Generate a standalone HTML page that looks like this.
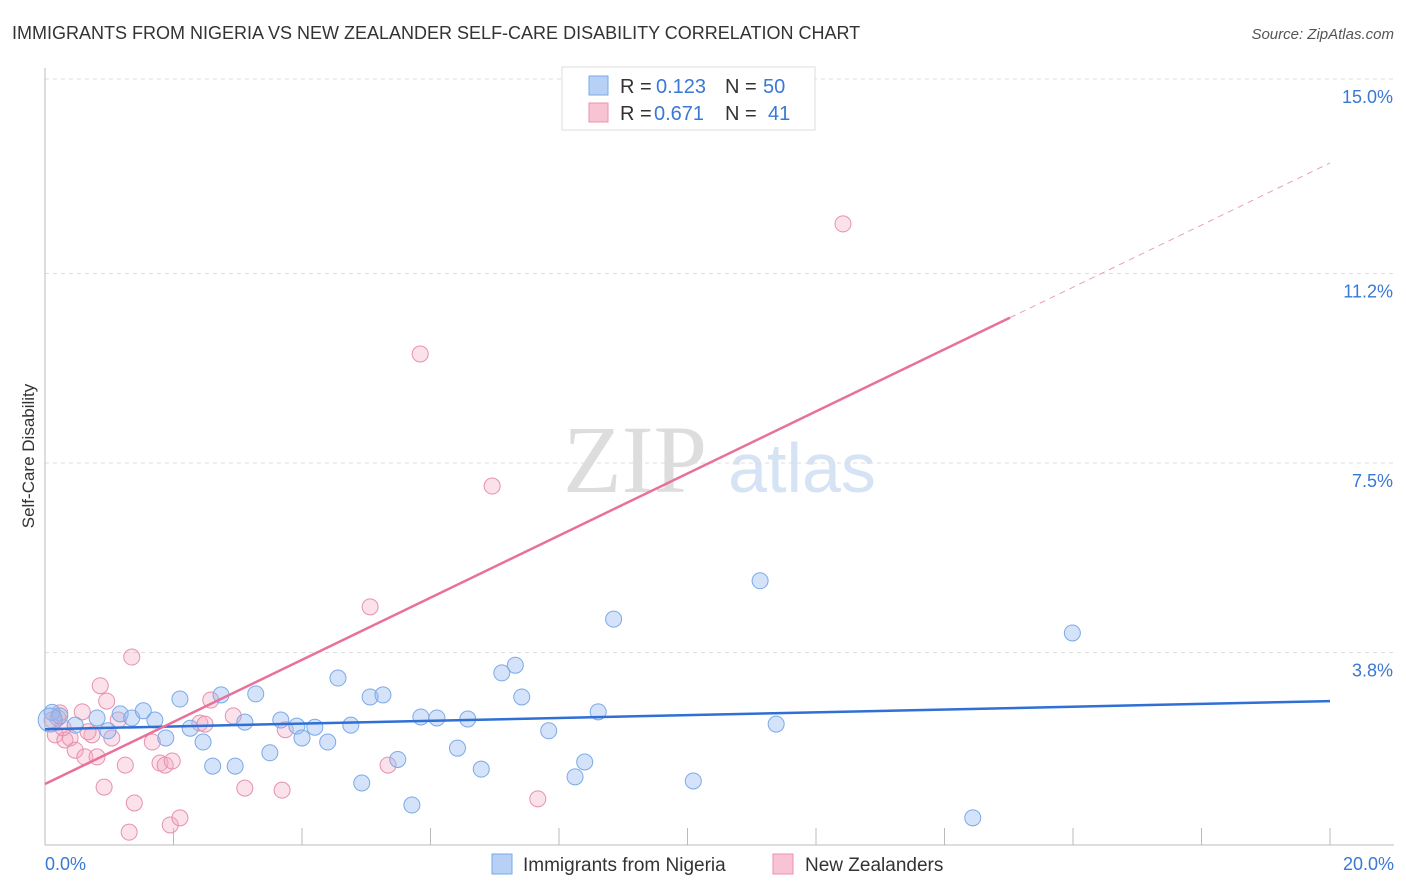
<!DOCTYPE html>
<html><head><meta charset="utf-8"><style>
body{margin:0;background:#fff;font-family:"Liberation Sans",sans-serif;}
svg{display:block}
</style></head><body>
<svg width="1406" height="892" viewBox="0 0 1406 892" id="chart">
<text x="12" y="39" font-size="18" fill="#333">IMMIGRANTS FROM NIGERIA VS NEW ZEALANDER SELF-CARE DISABILITY CORRELATION CHART</text>
<text x="1394" y="39" font-size="15" fill="#555" font-style="italic" text-anchor="end">Source: ZipAtlas.com</text>
<g>
<text x="635" y="492" font-size="96" fill="#ddd" text-anchor="middle" font-family="Liberation Serif,serif">ZIP</text>
<text x="802" y="492" font-size="70" fill="#d5e3f5" text-anchor="middle">atlas</text>
</g>
<g id="grid"></g>
<g id="axes"></g>
<g id="marks"></g>
<text x="34" y="456" font-size="17" fill="#333" text-anchor="middle" transform="rotate(-90 34 456)">Self-Care Disability</text>
<g>
<rect x="562" y="67" width="253" height="63" fill="#fff" stroke="#ddd"/>
<rect x="589" y="76" width="19" height="19" fill="#b7d0f5" stroke="#7aaae8"/>
<rect x="589" y="103" width="19" height="19" fill="#f8c4d4" stroke="#e890ae"/>
<text x="620" y="93" font-size="20" fill="#333">R =</text>
<text x="656" y="93" font-size="20" fill="#3a78d4">0.123</text>
<text x="725" y="93" font-size="20" fill="#333">N =</text>
<text x="763" y="93" font-size="20" fill="#3a78d4">50</text>
<text x="620" y="120" font-size="20" fill="#333">R =</text>
<text x="654" y="120" font-size="20" fill="#3a78d4">0.671</text>
<text x="725" y="120" font-size="20" fill="#333">N =</text>
<text x="768" y="120" font-size="20" fill="#3a78d4">41</text>
</g>
<g>
<rect x="492" y="854" width="20" height="20" fill="#b7d0f5" stroke="#7aaae8"/>
<text x="523" y="871" font-size="19" fill="#333">Immigrants from Nigeria</text>
<rect x="773" y="854" width="20" height="20" fill="#f8c4d4" stroke="#e890ae"/>
<text x="805" y="871" font-size="19" fill="#333">New Zealanders</text>
</g>
</svg>
<script>
const yTicks=[3.8,7.5,11.2,15.0];
const yTickLabels=["3.8%","7.5%","11.2%","15.0%"];
const xTickLabels=["0.0%","20.0%"];
const blueX=[0.11,0.23,0.47,0.81,0.98,1.17,1.35,1.53,1.71,1.88,2.1,2.26,2.46,2.61,2.74,2.96,3.11,3.28,3.5,3.67,3.92,4.0,4.2,4.4,4.56,4.76,4.93,5.06,5.26,5.49,5.71,5.85,6.1,6.42,6.58,6.79,7.11,7.32,7.42,7.84,8.25,8.4,8.61,8.85,10.09,11.13,11.38,14.44,15.99,0.08];
const blueY=[2.63,2.56,2.38,2.52,2.27,2.6,2.52,2.66,2.48,2.13,2.89,2.32,2.05,1.58,2.97,1.58,2.44,2.99,1.84,2.48,2.36,2.13,2.34,2.05,3.3,2.38,1.25,2.93,2.97,1.71,0.82,2.54,2.52,1.93,2.5,1.52,3.4,3.55,2.93,2.27,1.37,1.66,2.64,4.45,1.29,5.2,2.4,0.57,4.18,2.48];
const pinkX=[0.11,0.16,0.23,0.31,0.39,0.47,0.58,0.62,0.73,0.81,0.86,0.92,0.96,1.04,1.14,1.25,1.31,1.35,1.39,1.67,1.79,1.87,1.95,1.98,2.1,2.41,2.49,2.58,2.93,3.11,3.69,3.74,5.06,5.34,5.84,6.96,7.67,12.42,0.2,0.67,0.28];
const pinkY=[2.48,2.19,2.62,2.09,2.13,1.89,2.64,1.76,2.19,1.76,3.15,1.17,2.85,2.13,2.48,1.6,0.29,3.71,0.86,2.05,1.64,1.6,0.43,1.68,0.57,2.42,2.4,2.87,2.56,1.15,1.11,2.29,4.69,1.6,9.63,7.05,0.94,12.17,2.52,2.25,2.33];
const blueLine=[2.30,2.85];
const pinkLine=[1.23,13.36];
const pinkSolidEnd=15.02;
const NS="http://www.w3.org/2000/svg";
const X0=45,X1=1330,Y0=847,PXY=51.2;
function sx(v){return X0+(X1-X0)*v/20;}
function sy(v){return Y0-v*PXY;}
function mk(tag,attrs,parent){const e=document.createElementNS(NS,tag);for(const k in attrs)e.setAttribute(k,attrs[k]);parent.appendChild(e);return e;}
const grid=document.getElementById('grid'),axes=document.getElementById('axes'),marks=document.getElementById('marks');
yTicks.forEach((t,i)=>{
 const l=mk('line',{x1:X0,x2:1394,y1:sy(t),y2:sy(t),stroke:'#ddd','stroke-dasharray':'4,4'},grid);
 
 
 const tx=mk('text',{x:1393,y:sy(t)+24,'font-size':18,fill:'#3a78d4','text-anchor':'end'},axes);
 tx.textContent=yTickLabels[i];
 
 
});
const ax=mk('line',{x1:X0,x2:1394,y1:845,y2:845,stroke:'#bbb'},axes);


const ay=mk('line',{x1:X0,x2:X0,y1:68,y2:845,stroke:'#bbb'},axes);


for(let i=0;i<=10;i++){
 const t=mk('line',{x1:sx(i*2),x2:sx(i*2),y1:828,y2:845,stroke:'#bbb'},axes);
 
 
}
[[0,'start',45],[1,'end',1394]].forEach(([i,a,x])=>{
 const tx=mk('text',{x:x,y:870,'font-size':18,fill:'#3a78d4','text-anchor':a},axes);
 tx.textContent=xTickLabels[i];
 
 
});
pinkX.forEach((x,i)=>{
 const c=mk('circle',{cx:sx(x),cy:sy(pinkY[i]),r:8,fill:'rgba(244,170,195,0.35)',stroke:'#e890ae','stroke-width':1},marks);
 
 
});
blueX.forEach((x,i)=>{
 const c=mk('circle',{cx:sx(x),cy:sy(blueY[i]),r:i==49?12:8,fill:'rgba(147,186,240,0.4)',stroke:'#7aaae8','stroke-width':1},marks);
 
 
});
const bl=mk('line',{x1:sx(0),y1:sy(blueLine[0]),x2:sx(20),y2:sy(blueLine[1]),stroke:'#2f6fd6','stroke-width':2.5},marks);


const pm=(pinkLine[1]-pinkLine[0])/20;
const pl=mk('line',{x1:sx(0),y1:sy(pinkLine[0]),x2:sx(pinkSolidEnd),y2:sy(pinkLine[0]+pm*pinkSolidEnd),stroke:'#e8709a','stroke-width':2.5},marks);


const pd=mk('line',{x1:sx(pinkSolidEnd),y1:sy(pinkLine[0]+pm*pinkSolidEnd),x2:sx(20),y2:sy(pinkLine[1]),stroke:'#e8a0b8','stroke-width':1,'stroke-dasharray':'6,5'},marks);


</script>
</body></html>
